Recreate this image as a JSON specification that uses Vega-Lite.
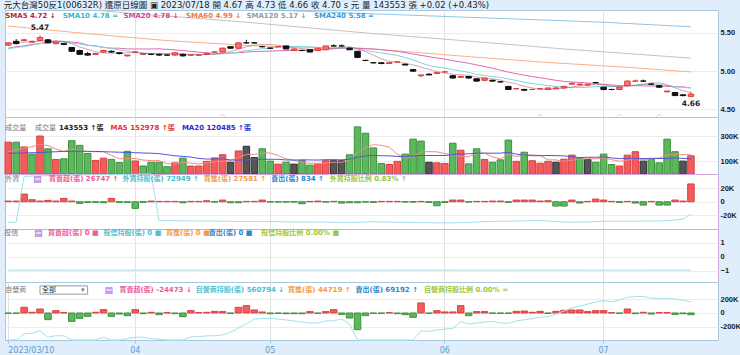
{
"$schema":"https://vega.github.io/schema/vega-lite/v6.json",
"background":"#dfeefa",
"padding":{"left":3,"top":1,"right":0,"bottom":0},
"spacing":0,
"bounds":"flush",
"title":{"text":"元大台灣50反1(00632R)    還原日線圖   ▣ 2023/07/18  開 4.67  高 4.73  低 4.66  收 4.70 s 元  量 143553 張  +0.02 (+0.43%)","anchor":"start","fontSize":8.5,"fontWeight":"normal","color":"#222","offset":0,"font":"DejaVu Sans, Noto Sans CJK TC"},
"config":{
 "font":"DejaVu Sans, Noto Sans CJK TC",
 "view":{"stroke":"#a8c8e0","fill":"white"},
 "axisY":{"title":null,"domain":false,"ticks":false,"labelPadding":2,"labelFont":"Liberation Sans","labelFontSize":7.5,"labelFontWeight":"bold","labelColor":"#222","grid":true,"gridColor":"#ececec","labelOverlap":false},
 "axisX":{"title":null,"domain":false,"ticks":false,"labels":false,"grid":true,"gridColor":"#e2e2e2","bandPosition":0.5}
},
"datasets":{
"m":[
{"d":"2023-03-10","o":5.34,"h":5.38,"l":5.33,"c":5.37,"r":"u","v":251,"fn":1,"dn":-5,"s5":5.36,"s10":5.29,"s20":5.30,"vm5":175,"vm20":164,"fh":33,"dh":0,"th":0},
{"d":"2023-03-13","o":5.39,"h":5.42,"l":5.35,"c":5.36,"r":"d","v":251,"fn":1,"dn":-5,"s5":5.37,"s10":5.31,"s20":5.32,"vm5":190,"vm20":165,"fh":33,"dh":0,"th":0},
{"d":"2023-03-14","o":5.40,"h":5.42,"l":5.39,"c":5.41,"r":"u","v":214,"fn":11.5,"dn":83,"s5":5.38,"s10":5.32,"s20":5.33,"vm5":205,"vm20":166,"fh":258,"dh":88,"th":0},
{"d":"2023-03-15","o":5.38,"h":5.40,"l":5.37,"c":5.39,"r":"d","v":157,"fn":3,"dn":10,"s5":5.38,"s10":5.34,"s20":5.35,"vm5":215,"vm20":168,"fh":260,"dh":98,"th":0},
{"d":"2023-03-16","o":5.40,"h":5.47,"l":5.39,"c":5.44,"r":"u","v":300,"fn":1,"dn":58,"s5":5.394,"s10":5.36,"s20":5.36,"vm5":235,"vm20":170,"fh":261,"dh":136,"th":0},
{"d":"2023-03-17","o":5.41,"h":5.42,"l":5.37,"c":5.37,"r":"d","v":199,"fn":2,"dn":-97,"s5":5.394,"s10":5.37,"s20":5.38,"vm5":224,"vm20":173,"fh":262,"dh":40,"th":0},
{"d":"2023-03-20","o":5.36,"h":5.39,"l":5.35,"c":5.38,"r":"u","v":115,"fn":1,"dn":34,"s5":5.398,"s10":5.38,"s20":5.39,"vm5":197,"vm20":176,"fh":263,"dh":63,"th":0},
{"d":"2023-03-21","o":5.36,"h":5.37,"l":5.34,"c":5.35,"r":"d","v":120,"fn":5,"dn":5,"s5":5.386,"s10":5.38,"s20":5.39,"vm5":178,"vm20":178,"fh":264,"dh":63,"th":0},
{"d":"2023-03-22","o":5.31,"h":5.31,"l":5.25,"c":5.26,"r":"d","v":263,"fn":1,"dn":-122,"s5":5.36,"s10":5.37,"s20":5.38,"vm5":199,"vm20":179,"fh":265,"dh":0,"th":0},
{"d":"2023-03-23","o":5.27,"h":5.28,"l":5.22,"c":5.22,"r":"d","v":226,"fn":-2.5,"dn":-78,"s5":5.316,"s10":5.355,"s20":5.37,"vm5":185,"vm20":180,"fh":265,"dh":0,"th":0},
{"d":"2023-03-24","o":5.23,"h":5.25,"l":5.20,"c":5.21,"r":"d","v":162,"fn":-1,"dn":-49,"s5":5.284,"s10":5.339,"s20":5.34,"vm5":177,"vm20":179,"fh":266,"dh":0,"th":0},
{"d":"2023-03-27","o":5.22,"h":5.24,"l":5.21,"c":5.23,"r":"u","v":107,"fn":-1,"dn":10,"s5":5.254,"s10":5.326,"s20":5.33,"vm5":176,"vm20":178,"fh":266,"dh":0,"th":0},
{"d":"2023-03-28","o":5.25,"h":5.28,"l":5.24,"c":5.27,"r":"u","v":125,"fn":-1.5,"dn":49,"s5":5.238,"s10":5.312,"s20":5.31,"vm5":177,"vm20":176,"fh":267,"dh":40,"th":0},
{"d":"2023-03-29","o":5.26,"h":5.27,"l":5.24,"c":5.25,"r":"d","v":115,"fn":5,"dn":-49,"s5":5.236,"s10":5.298,"s20":5.30,"vm5":147,"vm20":174,"fh":267,"dh":0,"th":0},
{"d":"2023-03-30","o":5.24,"h":5.25,"l":5.22,"c":5.23,"r":"d","v":90,"fn":-1,"dn":-15,"s5":5.238,"s10":5.277,"s20":5.30,"vm5":120,"vm20":172,"fh":268,"dh":0,"th":0},
{"d":"2023-03-31","o":5.20,"h":5.21,"l":5.19,"c":5.21,"r":"d","v":179,"fn":-1,"dn":-39,"s5":5.238,"s10":5.261,"s20":5.29,"vm5":123,"vm20":170,"fh":268,"dh":20,"th":0},
{"d":"2023-04-06","o":5.25,"h":5.26,"l":5.24,"c":5.25,"r":"u","v":103,"fn":-10,"dn":49,"s5":5.242,"s10":5.248,"s20":5.29,"vm5":122,"vm20":168,"fh":269,"dh":40,"th":0},
{"d":"2023-04-07","o":5.22,"h":5.24,"l":5.21,"c":5.23,"r":"d","v":63,"fn":-1,"dn":-10,"s5":5.234,"s10":5.236,"s20":5.29,"vm5":110,"vm20":166,"fh":270,"dh":40,"th":0},
{"d":"2023-04-10","o":5.22,"h":5.23,"l":5.21,"c":5.22,"r":"d","v":93,"fn":1,"dn":10,"s5":5.228,"s10":5.232,"s20":5.29,"vm5":106,"vm20":164,"fh":270,"dh":20,"th":0},
{"d":"2023-04-11","o":5.22,"h":5.23,"l":5.20,"c":5.21,"r":"d","v":93,"fn":0.5,"dn":-24,"s5":5.224,"s10":5.231,"s20":5.293,"vm5":106,"vm20":161,"fh":41,"dh":10,"th":0},
{"d":"2023-04-12","o":5.21,"h":5.22,"l":5.20,"c":5.21,"r":"d","v":58,"fn":0.5,"dn":5,"s5":5.224,"s10":5.231,"s20":5.285,"vm5":82,"vm20":152,"fh":41,"dh":0,"th":0},
{"d":"2023-04-13","o":5.21,"h":5.25,"l":5.20,"c":5.24,"r":"u","v":88,"fn":0.5,"dn":-10,"s5":5.222,"s10":5.232,"s20":5.279,"vm5":79,"vm20":144,"fh":41,"dh":0,"th":0},
{"d":"2023-04-14","o":5.22,"h":5.23,"l":5.19,"c":5.20,"r":"d","v":125,"fn":-1.5,"dn":-54,"s5":5.216,"s10":5.225,"s20":5.269,"vm5":91,"vm20":139,"fh":40,"dh":0,"th":0},
{"d":"2023-04-17","o":5.21,"h":5.22,"l":5.20,"c":5.21,"r":"u","v":63,"fn":0.5,"dn":34,"s5":5.214,"s10":5.221,"s20":5.26,"vm5":85,"vm20":134,"fh":40,"dh":44,"th":0},
{"d":"2023-04-18","o":5.21,"h":5.22,"l":5.20,"c":5.21,"r":"u","v":63,"fn":0.5,"dn":5,"s5":5.214,"s10":5.219,"s20":5.248,"vm5":79,"vm20":123,"fh":39,"dh":50,"th":0},
{"d":"2023-04-19","o":5.22,"h":5.24,"l":5.21,"c":5.23,"r":"u","v":100,"fn":1.5,"dn":10,"s5":5.218,"s10":5.221,"s20":5.241,"vm5":88,"vm20":118,"fh":39,"dh":60,"th":0},
{"d":"2023-04-20","o":5.25,"h":5.26,"l":5.24,"c":5.25,"r":"u","v":127,"fn":-0.5,"dn":24,"s5":5.22,"s10":5.221,"s20":5.235,"vm5":96,"vm20":118,"fh":39,"dh":63,"th":0},
{"d":"2023-04-21","o":5.25,"h":5.31,"l":5.24,"c":5.30,"r":"u","v":152,"fn":2.5,"dn":20,"s5":5.238,"s10":5.227,"s20":5.232,"vm5":101,"vm20":120,"fh":38,"dh":75,"th":0},
{"d":"2023-04-24","o":5.32,"h":5.32,"l":5.29,"c":5.30,"r":"f","v":93,"fn":-1.5,"dn":-5,"s5":5.256,"s10":5.235,"s20":5.234,"vm5":107,"vm20":111,"fh":38,"dh":112,"th":0},
{"d":"2023-04-25","o":5.30,"h":5.38,"l":5.29,"c":5.37,"r":"u","v":182,"fn":-1.5,"dn":83,"s5":5.288,"s10":5.251,"s20":5.241,"vm5":131,"vm20":109,"fh":37,"dh":176,"th":0},
{"d":"2023-04-26","o":5.37,"h":5.41,"l":5.36,"c":5.37,"r":"f","v":219,"fn":0.5,"dn":107,"s5":5.318,"s10":5.268,"s20":5.25,"vm5":155,"vm20":112,"fh":37,"dh":234,"th":0},
{"d":"2023-04-27","o":5.37,"h":5.38,"l":5.36,"c":5.37,"r":"f","v":130,"fn":0.5,"dn":44,"s5":5.342,"s10":5.281,"s20":5.257,"vm5":155,"vm20":113,"fh":37,"dh":307,"th":0},
{"d":"2023-04-28","o":5.32,"h":5.33,"l":5.31,"c":5.32,"r":"d","v":199,"fn":2.5,"dn":15,"s5":5.348,"s10":5.293,"s20":5.259,"vm5":165,"vm20":117,"fh":36,"dh":317,"th":0},
{"d":"2023-05-02","o":5.30,"h":5.31,"l":5.29,"c":5.30,"r":"d","v":102,"fn":-0.5,"dn":-10,"s5":5.348,"s10":5.302,"s20":5.262,"vm5":166,"vm20":116,"fh":36,"dh":317,"th":0},
{"d":"2023-05-03","o":5.32,"h":5.33,"l":5.31,"c":5.32,"r":"u","v":78,"fn":-0.5,"dn":-5,"s5":5.338,"s10":5.313,"s20":5.266,"vm5":146,"vm20":116,"fh":36,"dh":307,"th":0},
{"d":"2023-05-04","o":5.33,"h":5.33,"l":5.29,"c":5.29,"r":"d","v":93,"fn":-0.5,"dn":-10,"s5":5.32,"s10":5.319,"s20":5.27,"vm5":120,"vm20":111,"fh":35,"dh":293,"th":0},
{"d":"2023-05-05","o":5.27,"h":5.30,"l":5.27,"c":5.29,"r":"f","v":78,"fn":-0.5,"dn":-10,"s5":5.306,"s10":5.324,"s20":5.273,"vm5":110,"vm20":110,"fh":35,"dh":278,"th":0},
{"d":"2023-05-08","o":5.27,"h":5.28,"l":5.26,"c":5.27,"r":"d","v":105,"fn":-3,"dn":-10,"s5":5.296,"s10":5.322,"s20":5.275,"vm5":91,"vm20":112,"fh":35,"dh":263,"th":0},
{"d":"2023-05-09","o":5.28,"h":5.28,"l":5.25,"c":5.25,"r":"d","v":70,"fn":0.5,"dn":20,"s5":5.286,"s10":5.317,"s20":5.276,"vm5":85,"vm20":111,"fh":34,"dh":249,"th":0},
{"d":"2023-05-10","o":5.27,"h":5.30,"l":5.26,"c":5.30,"r":"u","v":78,"fn":1,"dn":-5,"s5":5.282,"s10":5.31,"s20":5.281,"vm5":85,"vm20":110,"fh":34,"dh":249,"th":0},
{"d":"2023-05-11","o":5.28,"h":5.33,"l":5.28,"c":5.33,"r":"u","v":105,"fn":-0.5,"dn":20,"s5":5.29,"s10":5.305,"s20":5.287,"vm5":87,"vm20":113,"fh":34,"dh":278,"th":0},
{"d":"2023-05-12","o":5.33,"h":5.35,"l":5.32,"c":5.33,"r":"f","v":105,"fn":0.5,"dn":49,"s5":5.298,"s10":5.302,"s20":5.292,"vm5":93,"vm20":113,"fh":33,"dh":282,"th":0},
{"d":"2023-05-15","o":5.33,"h":5.35,"l":5.32,"c":5.33,"r":"f","v":105,"fn":-2,"dn":-20,"s5":5.312,"s10":5.304,"s20":5.299,"vm5":93,"vm20":112,"fh":33,"dh":307,"th":0},
{"d":"2023-05-16","o":5.30,"h":5.31,"l":5.28,"c":5.28,"r":"d","v":152,"fn":-1.5,"dn":-73,"s5":5.318,"s10":5.302,"s20":5.302,"vm5":109,"vm20":117,"fh":33,"dh":234,"th":0},
{"d":"2023-05-17","o":5.26,"h":5.26,"l":5.17,"c":5.18,"r":"d","v":372,"fn":-1.5,"dn":-243,"s5":5.294,"s10":5.288,"s20":5.301,"vm5":168,"vm20":132,"fh":33,"dh":0,"th":0},
{"d":"2023-05-18","o":5.14,"h":5.15,"l":5.13,"c":5.14,"r":"d","v":322,"fn":-0.5,"dn":-39,"s5":5.256,"s10":5.273,"s20":5.296,"vm5":211,"vm20":143,"fh":34,"dh":0,"th":0},
{"d":"2023-05-19","o":5.11,"h":5.12,"l":5.10,"c":5.11,"r":"d","v":206,"fn":-1,"dn":-5,"s5":5.21,"s10":5.254,"s20":5.289,"vm5":231,"vm20":147,"fh":36,"dh":0,"th":0},
{"d":"2023-05-22","o":5.11,"h":5.11,"l":5.09,"c":5.10,"r":"d","v":83,"fn":0.5,"dn":-5,"s5":5.162,"s10":5.237,"s20":5.28,"vm5":227,"vm20":144,"fh":35,"dh":0,"th":0},
{"d":"2023-05-23","o":5.10,"h":5.12,"l":5.10,"c":5.11,"r":"u","v":75,"fn":0.5,"dn":5,"s5":5.128,"s10":5.223,"s20":5.27,"vm5":212,"vm20":143,"fh":34,"dh":0,"th":0},
{"d":"2023-05-24","o":5.12,"h":5.13,"l":5.11,"c":5.12,"r":"u","v":100,"fn":0.5,"dn":-10,"s5":5.116,"s10":5.205,"s20":5.258,"vm5":157,"vm20":139,"fh":33,"dh":0,"th":0},
{"d":"2023-05-25","o":5.09,"h":5.10,"l":5.08,"c":5.08,"r":"d","v":157,"fn":-0.5,"dn":-24,"s5":5.104,"s10":5.18,"s20":5.243,"vm5":124,"vm20":136,"fh":33,"dh":0,"th":0},
{"d":"2023-05-26","o":5.02,"h":5.03,"l":4.99,"c":5.00,"r":"d","v":275,"fn":-0.5,"dn":-63,"s5":5.082,"s10":5.146,"s20":5.224,"vm5":138,"vm20":143,"fh":32,"dh":0,"th":0},
{"d":"2023-05-29","o":4.94,"h":4.95,"l":4.92,"c":4.95,"r":"d","v":260,"fn":0.5,"dn":146,"s5":5.052,"s10":5.107,"s20":5.206,"vm5":173,"vm20":146,"fh":31,"dh":136,"th":0},
{"d":"2023-05-30","o":4.96,"h":4.97,"l":4.95,"c":4.95,"r":"f","v":93,"fn":-1,"dn":-5,"s5":5.022,"s10":5.075,"s20":5.189,"vm5":177,"vm20":146,"fh":31,"dh":127,"th":0},
{"d":"2023-05-31","o":4.97,"h":4.99,"l":4.96,"c":4.98,"r":"u","v":88,"fn":-6,"dn":34,"s5":4.994,"s10":5.055,"s20":5.172,"vm5":175,"vm20":146,"fh":30,"dh":146,"th":0},
{"d":"2023-06-01","o":4.99,"h":5.00,"l":4.98,"c":4.99,"r":"u","v":83,"fn":-1,"dn":15,"s5":4.976,"s10":5.04,"s20":5.157,"vm5":160,"vm20":146,"fh":30,"dh":161,"th":0},
{"d":"2023-06-02","o":4.94,"h":4.95,"l":4.90,"c":4.91,"r":"d","v":243,"fn":2.5,"dn":15,"s5":4.958,"s10":5.02,"s20":5.137,"vm5":153,"vm20":154,"fh":30,"dh":171,"th":0},
{"d":"2023-06-05","o":4.92,"h":4.94,"l":4.91,"c":4.93,"r":"u","v":188,"fn":2.5,"dn":107,"s5":4.954,"s10":5.003,"s20":5.12,"vm5":139,"vm20":158,"fh":31,"dh":268,"th":0},
{"d":"2023-06-06","o":4.93,"h":4.93,"l":4.90,"c":4.91,"r":"d","v":80,"fn":-0.5,"dn":-39,"s5":4.944,"s10":4.983,"s20":5.103,"vm5":136,"vm20":159,"fh":32,"dh":234,"th":0},
{"d":"2023-06-07","o":4.90,"h":4.90,"l":4.86,"c":4.87,"r":"d","v":199,"fn":0.5,"dn":20,"s5":4.922,"s10":4.958,"s20":5.082,"vm5":159,"vm20":165,"fh":34,"dh":249,"th":0},
{"d":"2023-06-08","o":4.88,"h":4.91,"l":4.87,"c":4.91,"r":"u","v":115,"fn":0.5,"dn":20,"s5":4.906,"s10":4.941,"s20":5.061,"vm5":165,"vm20":165,"fh":36,"dh":263,"th":0},
{"d":"2023-06-09","o":4.88,"h":4.89,"l":4.86,"c":4.87,"r":"d","v":93,"fn":1,"dn":-5,"s5":4.898,"s10":4.928,"s20":5.037,"vm5":135,"vm20":164,"fh":37,"dh":273,"th":0},
{"d":"2023-06-12","o":4.86,"h":4.87,"l":4.85,"c":4.86,"r":"d","v":112,"fn":1,"dn":-5,"s5":4.884,"s10":4.919,"s20":5.013,"vm5":120,"vm20":165,"fh":38,"dh":249,"th":0},
{"d":"2023-06-13","o":4.80,"h":4.80,"l":4.76,"c":4.76,"r":"d","v":268,"fn":-1,"dn":-5,"s5":4.854,"s10":4.899,"s20":4.987,"vm5":157,"vm20":171,"fh":38,"dh":244,"th":0},
{"d":"2023-06-14","o":4.77,"h":4.78,"l":4.76,"c":4.77,"r":"u","v":100,"fn":2.5,"dn":24,"s5":4.834,"s10":4.878,"s20":4.967,"vm5":138,"vm20":157,"fh":39,"dh":278,"th":0},
{"d":"2023-06-15","o":4.76,"h":4.77,"l":4.74,"c":4.75,"r":"d","v":172,"fn":2.5,"dn":29,"s5":4.802,"s10":4.854,"s20":4.947,"vm5":149,"vm20":150,"fh":40,"dh":297,"th":0},
{"d":"2023-06-16","o":4.76,"h":4.77,"l":4.75,"c":4.76,"r":"u","v":105,"fn":2.5,"dn":10,"s5":4.78,"s10":4.839,"s20":4.93,"vm5":151,"vm20":144,"fh":41,"dh":312,"th":0},
{"d":"2023-06-19","o":4.77,"h":4.78,"l":4.76,"c":4.77,"r":"u","v":85,"fn":1,"dn":24,"s5":4.762,"s10":4.823,"s20":4.913,"vm5":146,"vm20":145,"fh":41,"dh":332,"th":0},
{"d":"2023-06-20","o":4.76,"h":4.78,"l":4.75,"c":4.78,"r":"u","v":100,"fn":1.5,"dn":-5,"s5":4.766,"s10":4.81,"s20":4.897,"vm5":112,"vm20":146,"fh":39,"dh":341,"th":0},
{"d":"2023-06-21","o":4.77,"h":4.79,"l":4.77,"c":4.78,"r":"f","v":93,"fn":-6.5,"dn":24,"s5":4.768,"s10":4.801,"s20":4.88,"vm5":111,"vm20":145,"fh":37,"dh":380,"th":0},
{"d":"2023-06-26","o":4.78,"h":4.81,"l":4.77,"c":4.80,"r":"u","v":117,"fn":-6.5,"dn":39,"s5":4.778,"s10":4.79,"s20":4.866,"vm5":100,"vm20":143,"fh":35,"dh":424,"th":0},
{"d":"2023-06-27","o":4.83,"h":4.85,"l":4.82,"c":4.84,"r":"u","v":149,"fn":2.5,"dn":44,"s5":4.794,"s10":4.787,"s20":4.858,"vm5":109,"vm20":137,"fh":33,"dh":468,"th":0},
{"d":"2023-06-28","o":4.82,"h":4.84,"l":4.81,"c":4.83,"r":"d","v":125,"fn":-2,"dn":44,"s5":4.806,"s10":4.784,"s20":4.852,"vm5":117,"vm20":130,"fh":34,"dh":497,"th":0},
{"d":"2023-06-29","o":4.82,"h":4.83,"l":4.80,"c":4.83,"r":"f","v":115,"fn":0.5,"dn":20,"s5":4.814,"s10":4.79,"s20":4.845,"vm5":120,"vm20":132,"fh":35,"dh":527,"th":0},
{"d":"2023-06-30","o":4.85,"h":4.86,"l":4.84,"c":4.85,"r":"d","v":93,"fn":4,"dn":34,"s5":4.828,"s10":4.798,"s20":4.838,"vm5":120,"vm20":132,"fh":36,"dh":556,"th":0},
{"d":"2023-07-03","o":4.79,"h":4.79,"l":4.75,"c":4.76,"r":"d","v":157,"fn":2.5,"dn":34,"s5":4.82,"s10":4.799,"s20":4.827,"vm5":128,"vm20":135,"fh":38,"dh":575,"th":0},
{"d":"2023-07-04","o":4.76,"h":4.77,"l":4.75,"c":4.76,"r":"d","v":75,"fn":0.5,"dn":5,"s5":4.804,"s10":4.799,"s20":4.819,"vm5":113,"vm20":127,"fh":38,"dh":560,"th":0},
{"d":"2023-07-05","o":4.76,"h":4.79,"l":4.75,"c":4.79,"r":"u","v":63,"fn":-1,"dn":-5,"s5":4.796,"s10":4.801,"s20":4.812,"vm5":101,"vm20":121,"fh":38,"dh":585,"th":0},
{"d":"2023-07-06","o":4.81,"h":4.88,"l":4.80,"c":4.87,"r":"u","v":149,"fn":0.5,"dn":58,"s5":4.806,"s10":4.81,"s20":4.81,"vm5":107,"vm20":124,"fh":38,"dh":625,"th":0},
{"d":"2023-07-07","o":4.87,"h":4.89,"l":4.86,"c":4.87,"r":"u","v":176,"fn":-2,"dn":-10,"s5":4.81,"s10":4.819,"s20":4.81,"vm5":124,"vm20":123,"fh":38,"dh":634,"th":0},
{"d":"2023-07-10","o":4.87,"h":4.89,"l":4.86,"c":4.87,"r":"f","v":102,"fn":-5,"dn":10,"s5":4.832,"s10":4.826,"s20":4.808,"vm5":113,"vm20":122,"fh":39,"dh":639,"th":0},
{"d":"2023-07-11","o":4.83,"h":4.84,"l":4.82,"c":4.83,"r":"d","v":117,"fn":0.5,"dn":-15,"s5":4.846,"s10":4.825,"s20":4.806,"vm5":121,"vm20":124,"fh":39,"dh":610,"th":0},
{"d":"2023-07-12","o":4.81,"h":4.81,"l":4.78,"c":4.79,"r":"d","v":88,"fn":-5,"dn":5,"s5":4.846,"s10":4.821,"s20":4.803,"vm5":126,"vm20":122,"fh":40,"dh":610,"th":0},
{"d":"2023-07-13","o":4.73,"h":4.74,"l":4.72,"c":4.74,"r":"d","v":275,"fn":-5,"dn":5,"s5":4.82,"s10":4.813,"s20":4.802,"vm5":152,"vm20":123,"fh":41,"dh":610,"th":0},
{"d":"2023-07-14","o":4.72,"h":4.72,"l":4.68,"c":4.68,"r":"d","v":176,"fn":2.5,"dn":-20,"s5":4.782,"s10":4.796,"s20":4.797,"vm5":152,"vm20":127,"fh":44,"dh":600,"th":0},
{"d":"2023-07-17","o":4.69,"h":4.70,"l":4.67,"c":4.68,"r":"f","v":102,"fn":1,"dn":-10,"s5":4.744,"s10":4.788,"s20":4.794,"vm5":152,"vm20":123,"fh":49,"dh":581,"th":0},
{"d":"2023-07-18","o":4.67,"h":4.73,"l":4.66,"c":4.70,"r":"u","v":143.553,"fn":26.747,"dn":-24.473,"s5":4.72,"s10":4.78,"s20":4.78,"vm5":152.978,"vm20":120.485,"fh":72.949,"dh":560.794,"th":0}
],
"ma":[
{"d":"2023-03-10","k":"SMA60","v":5.59},{"d":"2023-03-24","k":"SMA60","v":5.49},{"d":"2023-04-12","k":"SMA60","v":5.40},{"d":"2023-04-27","k":"SMA60","v":5.33},{"d":"2023-05-19","k":"SMA60","v":5.29},{"d":"2023-06-06","k":"SMA60","v":5.19},{"d":"2023-06-19","k":"SMA60","v":5.12},{"d":"2023-07-06","k":"SMA60","v":5.05},{"d":"2023-07-18","k":"SMA60","v":4.99},
{"d":"2023-03-10","k":"SMA120","v":5.89},{"d":"2023-03-30","k":"SMA120","v":5.77},{"d":"2023-04-26","k":"SMA120","v":5.64},{"d":"2023-05-18","k":"SMA120","v":5.50},{"d":"2023-06-02","k":"SMA120","v":5.41},{"d":"2023-06-26","k":"SMA120","v":5.29},{"d":"2023-07-18","k":"SMA120","v":5.17},
{"d":"2023-03-10","k":"SMA240","v":5.92},{"d":"2023-04-26","k":"SMA240","v":5.81},{"d":"2023-05-19","k":"SMA240","v":5.75},{"d":"2023-07-03","k":"SMA240","v":5.64},{"d":"2023-07-18","k":"SMA240","v":5.58}
],
"ev":[
{"d":"2023-04-21","t":"a"},{"d":"2023-06-19","t":"a"},{"d":"2023-07-05","t":"b"},{"d":"2023-07-12","t":"a"}
]
},
"vconcat":[
{
 "width":713,"height":107,
 "view":{"stroke":"#a8c8e0","fill":"white"},
 "data":{"name":"m"},
 "encoding":{"x":{"field":"d","type":"ordinal","scale":{"type":"band","domain":{"unionWith":["2023-07-19","2023-07-20","2023-07-21"]},"paddingInner":0.18,"paddingOuter":0},"axis":{"values":["2023-04-06","2023-05-02","2023-06-01","2023-07-03"]}}},
 "layer":[
  {"data":{"name":"ma"},"mark":{"type":"line","strokeWidth":1,"clip":true},"encoding":{"y":{"field":"v","type":"quantitative","scale":{"domain":[4.41,5.78]},"axis":{"orient":"right","values":[4.5,4.75,5,5.25,5.5],"format":".2f","labelOverlap":false}},"color":{"field":"k","type":"nominal","scale":{"domain":["SMA60","SMA120","SMA240"],"range":["#f7b088","#c4c4c4","#8cc6e6"]},"legend":null}}},
  {"mark":{"type":"line","color":"#e466b4","strokeWidth":1},"encoding":{"y":{"field":"s20","type":"quantitative"}}},
  {"mark":{"type":"line","color":"#84d2e0","strokeWidth":1},"encoding":{"y":{"field":"s10","type":"quantitative"}}},
  {"mark":{"type":"line","color":"#a04848","strokeWidth":0.8,"opacity":0.6},"encoding":{"y":{"field":"s5","type":"quantitative"}}},
  {"mark":{"type":"rule","strokeWidth":1},"encoding":{"y":{"field":"l","type":"quantitative"},"y2":{"field":"h"},"color":{"condition":{"test":"datum.c > datum.o || (datum.c == datum.o && datum.r == 'u')","value":"#e23c3c"},"value":"#111111"}}},
  {"mark":{"type":"bar","strokeWidth":1,"width":{"band":0.85}},"encoding":{"y":{"field":"o","type":"quantitative"},"y2":{"field":"c"},"fill":{"condition":{"test":"datum.c > datum.o || (datum.c == datum.o && datum.r == 'u')","value":"#f87070"},"value":"#111111"},"stroke":{"condition":{"test":"datum.c > datum.o || (datum.c == datum.o && datum.r == 'u')","value":"#e23c3c"},"value":"#111111"}}},
  {"data":{"name":"ev"},"mark":{"type":"point","shape":"M-1,0.6L0,-0.4L1,0.6","filled":false,"size":28,"strokeWidth":1},"encoding":{"y":{"datum":4.425},"color":{"field":"t","type":"nominal","scale":{"domain":["a","b"],"range":["#eaa0c0","#8fd6e4"]},"legend":null}}},
  {"transform":[{"joinaggregate":[{"op":"max","field":"h","as":"mx"}]},{"filter":"datum.h == datum.mx"}],"mark":{"type":"text","dy":-7,"fontSize":7.5,"fontWeight":"bold","color":"#222"},"encoding":{"y":{"field":"h","type":"quantitative"},"text":{"field":"h","type":"quantitative","format":".2f"}}},
  {"transform":[{"joinaggregate":[{"op":"min","field":"l","as":"mn"}]},{"filter":"datum.l == datum.mn"}],"mark":{"type":"text","dy":7,"fontSize":7.5,"fontWeight":"bold","color":"#222"},"encoding":{"y":{"field":"l","type":"quantitative"},"text":{"field":"l","type":"quantitative","format":".2f"}}},
  {"data":{"values":[{}]},"mark":{"type":"text","align":"left","baseline":"middle","fontSize":7,"fontWeight":"bold","color":"#b22a2a","dx":-3},"encoding":{"x":{"datum":"2023-03-10","type":"ordinal"},"y":{"datum":5.717},"text":{"value":"SMA5 4.72 ↓"}}},
  {"data":{"values":[{}]},"mark":{"type":"text","align":"left","baseline":"middle","fontSize":7,"fontWeight":"bold","color":"#36b8c8","dx":-1},"encoding":{"x":{"datum":"2023-03-21","type":"ordinal"},"y":{"datum":5.717},"text":{"value":"SMA10 4.78 ="}}},
  {"data":{"values":[{}]},"mark":{"type":"text","align":"left","baseline":"middle","fontSize":7,"fontWeight":"bold","color":"#e0409a","dx":4},"encoding":{"x":{"datum":"2023-03-30","type":"ordinal"},"y":{"datum":5.717},"text":{"value":"SMA20 4.78 ↓"}}},
  {"data":{"values":[{}]},"mark":{"type":"text","align":"left","baseline":"middle","fontSize":7,"fontWeight":"bold","color":"#f07a3a","dx":3},"encoding":{"x":{"datum":"2023-04-14","type":"ordinal"},"y":{"datum":5.717},"text":{"value":"SMA60 4.99 ↓"}}},
  {"data":{"values":[{}]},"mark":{"type":"text","align":"left","baseline":"middle","fontSize":7,"fontWeight":"bold","color":"#9a9a9a","dx":0},"encoding":{"x":{"datum":"2023-04-26","type":"ordinal"},"y":{"datum":5.717},"text":{"value":"SMA120 5.17 ↓"}}},
  {"data":{"values":[{}]},"mark":{"type":"text","align":"left","baseline":"middle","fontSize":7,"fontWeight":"bold","color":"#3a9ad8","dx":4},"encoding":{"x":{"datum":"2023-05-09","type":"ordinal"},"y":{"datum":5.717},"text":{"value":"SMA240 5.58 ="}}}
 ]
},
{
 "width":713,"height":57,
 "view":{"stroke":"#a8c8e0","fill":"white"},
 "data":{"name":"m"},
 "encoding":{"x":{"field":"d","type":"ordinal","scale":{"type":"band","domain":{"unionWith":["2023-07-19","2023-07-20","2023-07-21"]},"paddingInner":0.18,"paddingOuter":0},"axis":{"values":["2023-04-06","2023-05-02","2023-06-01","2023-07-03"]}}},
 "layer":[
  {"mark":{"type":"bar","strokeWidth":1},"encoding":{"y":{"field":"v","type":"quantitative","scale":{"domain":[0,422]},"axis":{"orient":"right","values":[100,200,300],"labelExpr":"datum.value + 'K'","labelOverlap":false}},"fill":{"field":"r","type":"nominal","scale":{"domain":["u","d","f"],"range":["#f45c5c","#5cb85c","#555555"]},"legend":null},"stroke":{"field":"r","type":"nominal","scale":{"domain":["u","d","f"],"range":["#d94040","#3f8f3f","#333333"]},"legend":null}}},
  {"mark":{"type":"line","color":"#f08a8a","strokeWidth":1},"encoding":{"y":{"field":"vm5","type":"quantitative"}}},
  {"mark":{"type":"line","color":"#5555cc","strokeWidth":1},"encoding":{"y":{"field":"vm20","type":"quantitative"}}},
  {"data":{"values":[{}]},"mark":{"type":"text","align":"left","baseline":"middle","fontSize":7,"color":"#777","dx":-3},"encoding":{"x":{"datum":"2023-03-10","type":"ordinal"},"y":{"datum":367},"text":{"value":"成交量"}}},
  {"data":{"values":[{}]},"mark":{"type":"text","align":"left","baseline":"middle","fontSize":7,"color":"#777","dx":3},"encoding":{"x":{"datum":"2023-03-15","type":"ordinal"},"y":{"datum":367},"text":{"value":"成交量"}}},
  {"data":{"values":[{}]},"mark":{"type":"text","align":"left","baseline":"middle","fontSize":7,"fontWeight":"bold","color":"#222","dx":3},"encoding":{"x":{"datum":"2023-03-20","type":"ordinal"},"y":{"datum":367},"text":{"value":"143553 ↑張"}}},
  {"data":{"values":[{}]},"mark":{"type":"text","align":"left","baseline":"middle","fontSize":7,"fontWeight":"bold","color":"#e83030","dx":-1},"encoding":{"x":{"datum":"2023-03-29","type":"ordinal"},"y":{"datum":367},"text":{"value":"MA5 152978 ↑張"}}},
  {"data":{"values":[{}]},"mark":{"type":"text","align":"left","baseline":"middle","fontSize":7,"fontWeight":"bold","color":"#2a2ad0","dx":-1},"encoding":{"x":{"datum":"2023-04-14","type":"ordinal"},"y":{"datum":367},"text":{"value":"MA20 120485 ↑張"}}}
 ]
},
{
 "width":713,"height":55,
 "view":{"stroke":"#d4a6e4","fill":"white"},
 "data":{"name":"m"},
 "encoding":{"x":{"field":"d","type":"ordinal","scale":{"type":"band","domain":{"unionWith":["2023-07-19","2023-07-20","2023-07-21"]},"paddingInner":0.18,"paddingOuter":0},"axis":{"values":["2023-04-06","2023-05-02","2023-06-01","2023-07-03"]}}},
 "resolve":{"scale":{"y":"independent"},"axis":{"y":"independent"}},
 "layer":[
  {"mark":{"type":"bar","strokeWidth":1},"encoding":{"y":{"field":"fn","type":"quantitative","scale":{"domain":[-41,41.7]},"axis":{"orient":"right","values":[-20,0,20],"labelExpr":"datum.value == 0 ? '0' : datum.value + 'K'","labelOverlap":false}},"fill":{"condition":{"test":"datum.fn > 0","value":"#f45c5c"},"value":"#5cb85c"},"stroke":{"condition":{"test":"datum.fn > 0","value":"#d94040"},"value":"#3f8f3f"}}},
  {"mark":{"type":"line","color":"#a2e0ea","strokeWidth":1},"encoding":{"y":{"field":"fh","type":"quantitative","scale":{"domain":[0,270]},"axis":null}}},
  {"data":{"values":[{}]},"mark":{"type":"text","align":"left","baseline":"middle","fontSize":7,"color":"#777","dx":-3},"encoding":{"x":{"datum":"2023-03-10","type":"ordinal"},"y":{"datum":34,"scale":{"domain":[-41,41.7]},"axis":null},"text":{"value":"外資"}}},
  {"data":{"values":[{}]},"mark":{"type":"text","align":"left","baseline":"middle","fontSize":9,"color":"#a25ad9","dx":1},"encoding":{"x":{"datum":"2023-03-15","type":"ordinal"},"y":{"datum":34,"scale":{"domain":[-41,41.7]},"axis":null},"text":{"value":"▤"}}},
  {"data":{"values":[{}]},"mark":{"type":"text","align":"left","baseline":"middle","fontSize":7,"fontWeight":"bold","color":"#ee5c9a","dx":1},"encoding":{"x":{"datum":"2023-03-17","type":"ordinal"},"y":{"datum":34,"scale":{"domain":[-41,41.7]},"axis":null},"text":{"value":"買賣超(張) 26747 ↑"}}},
  {"data":{"values":[{}]},"mark":{"type":"text","align":"left","baseline":"middle","fontSize":7,"fontWeight":"bold","color":"#4cc0d0","dx":3},"encoding":{"x":{"datum":"2023-03-30","type":"ordinal"},"y":{"datum":34,"scale":{"domain":[-41,41.7]},"axis":null},"text":{"value":"外資持股(張) 72949 ↑"}}},
  {"data":{"values":[{}]},"mark":{"type":"text","align":"left","baseline":"middle","fontSize":7,"fontWeight":"bold","color":"#f39a4a","dx":-3},"encoding":{"x":{"datum":"2023-04-19","type":"ordinal"},"y":{"datum":34,"scale":{"domain":[-41,41.7]},"axis":null},"text":{"value":"買進(張) 27581 ↑"}}},
  {"data":{"values":[{}]},"mark":{"type":"text","align":"left","baseline":"middle","fontSize":7,"fontWeight":"bold","color":"#2e86c8","dx":1},"encoding":{"x":{"datum":"2023-05-02","type":"ordinal"},"y":{"datum":34,"scale":{"domain":[-41,41.7]},"axis":null},"text":{"value":"賣出(張) 834 ↑"}}},
  {"data":{"values":[{}]},"mark":{"type":"text","align":"left","baseline":"middle","fontSize":7,"fontWeight":"bold","color":"#9ac83a","dx":4},"encoding":{"x":{"datum":"2023-05-11","type":"ordinal"},"y":{"datum":34,"scale":{"domain":[-41,41.7]},"axis":null},"text":{"value":"外資持股比例 0.83% ↑"}}}
 ]
},
{
 "width":713,"height":53,
 "view":{"stroke":"#d4a6e4","fill":"white"},
 "data":{"name":"m"},
 "encoding":{"x":{"field":"d","type":"ordinal","scale":{"type":"band","domain":{"unionWith":["2023-07-19","2023-07-20","2023-07-21"]},"paddingInner":0.18,"paddingOuter":0},"axis":{"values":["2023-04-06","2023-05-02","2023-06-01","2023-07-03"]}}},
 "resolve":{"scale":{"y":"independent"},"axis":{"y":"independent"}},
 "layer":[
  {"data":{"values":[{}]},"mark":{"type":"text","align":"left","baseline":"middle","fontSize":7,"color":"#777","dx":-4},"encoding":{"x":{"datum":"2023-03-10","type":"ordinal"},"y":{"datum":1.69,"type":"quantitative","scale":{"domain":[-1.81,1.98]},"axis":{"orient":"right","values":[-1,0,1],"labelOverlap":false}},"text":{"value":"投信"}}},
  {"mark":{"type":"line","color":"#a2e0ea","strokeWidth":1},"encoding":{"y":{"field":"th","type":"quantitative","scale":{"domain":[-0.29,1]},"axis":null}}},
  {"data":{"values":[{}]},"mark":{"type":"text","align":"left","baseline":"middle","fontSize":9,"color":"#a25ad9","dx":2},"encoding":{"x":{"datum":"2023-03-15","type":"ordinal"},"y":{"datum":1.69,"scale":{"domain":[-1.81,1.98]},"axis":null},"text":{"value":"▤"}}},
  {"data":{"values":[{}]},"mark":{"type":"text","align":"left","baseline":"middle","fontSize":7,"fontWeight":"bold","color":"#ee5c9a","dx":0},"encoding":{"x":{"datum":"2023-03-17","type":"ordinal"},"y":{"datum":1.69,"scale":{"domain":[-1.81,1.98]},"axis":null},"text":{"value":"買賣超(張) 0 ■"}}},
  {"data":{"values":[{}]},"mark":{"type":"text","align":"left","baseline":"middle","fontSize":7,"fontWeight":"bold","color":"#4cc0d0","dx":0},"encoding":{"x":{"datum":"2023-03-28","type":"ordinal"},"y":{"datum":1.69,"scale":{"domain":[-1.81,1.98]},"axis":null},"text":{"value":"投信持股(張) 0 ■"}}},
  {"data":{"values":[{}]},"mark":{"type":"text","align":"left","baseline":"middle","fontSize":7,"fontWeight":"bold","color":"#f39a4a","dx":-1},"encoding":{"x":{"datum":"2023-04-12","type":"ordinal"},"y":{"datum":1.69,"scale":{"domain":[-1.81,1.98]},"axis":null},"text":{"value":"買進(張) 0 ■"}}},
  {"data":{"values":[{}]},"mark":{"type":"text","align":"left","baseline":"middle","fontSize":7,"fontWeight":"bold","color":"#2e86c8","dx":2},"encoding":{"x":{"datum":"2023-04-19","type":"ordinal"},"y":{"datum":1.69,"scale":{"domain":[-1.81,1.98]},"axis":null},"text":{"value":"賣出(張) 0 ■"}}},
  {"data":{"values":[{}]},"mark":{"type":"text","align":"left","baseline":"middle","fontSize":7,"fontWeight":"bold","color":"#9ac83a","dx":-1},"encoding":{"x":{"datum":"2023-04-28","type":"ordinal"},"y":{"datum":1.69,"scale":{"domain":[-1.81,1.98]},"axis":null},"text":{"value":"投信持股比例 0.00% ■"}}}
 ]
},
{
 "width":713,"height":58,
 "view":{"stroke":"#a8c8e0","fill":"white"},
 "data":{"name":"m"},
 "encoding":{"x":{"field":"d","type":"ordinal","scale":{"type":"band","domain":{"unionWith":["2023-07-19","2023-07-20","2023-07-21"]},"paddingInner":0.18,"paddingOuter":0},"axis":{"values":["2023-03-10","2023-04-06","2023-05-02","2023-06-01","2023-07-03"],"labels":true,"labelAngle":0,"labelBaseline":"top","labelExpr":"datum.value == '2023-03-10' ? '2023/03/10' : slice(datum.value, 5, 7)","labelColor":"#5b9bd5","labelFontSize":8,"labelFont":"DejaVu Sans","labelPadding":3,"ticks":true,"tickSize":3,"tickColor":"#9cc3de","labelAlign":{"condition":{"test":"datum.value == '2023-03-10'","value":"left"},"value":"center"}}}},
 "resolve":{"scale":{"y":"independent"},"axis":{"y":"independent"}},
 "layer":[
  {"mark":{"type":"bar","strokeWidth":1},"encoding":{"y":{"field":"dn","type":"quantitative","scale":{"domain":[-394,452]},"axis":{"orient":"right","values":[-200,0,200],"labelExpr":"datum.value == 0 ? '0' : datum.value + 'K'","labelOverlap":false}},"fill":{"condition":{"test":"datum.dn > 0","value":"#f45c5c"},"value":"#5cb85c"},"stroke":{"condition":{"test":"datum.dn > 0","value":"#d94040"},"value":"#3f8f3f"}}},
  {"mark":{"type":"line","color":"#a2e0ea","strokeWidth":1},"encoding":{"y":{"field":"dh","type":"quantitative","scale":{"domain":[0,849]},"axis":null}}},
  {"data":{"values":[{}]},"mark":{"type":"text","align":"left","baseline":"middle","fontSize":7,"color":"#777","dx":-3},"encoding":{"x":{"datum":"2023-03-10","type":"ordinal"},"y":{"datum":336,"scale":{"domain":[-394,452]},"axis":null},"text":{"value":"自營商"}}},
  {"data":{"values":[{}]},"mark":{"type":"rect","fill":"white","stroke":"#9a9a9a","strokeWidth":1},"encoding":{"x":{"datum":"2023-03-16","type":"ordinal"},"x2":{"datum":"2023-03-24"},"y":{"datum":395,"scale":{"domain":[-394,452]},"axis":null},"y2":{"datum":275}}},
  {"data":{"values":[{}]},"mark":{"type":"text","align":"left","baseline":"middle","fontSize":7,"color":"#333","dx":2},"encoding":{"x":{"datum":"2023-03-16","type":"ordinal"},"y":{"datum":336,"scale":{"domain":[-394,452]},"axis":null},"text":{"value":"全部"}}},
  {"data":{"values":[{}]},"mark":{"type":"text","align":"center","baseline":"middle","fontSize":7,"color":"#777","dx":3},"encoding":{"x":{"datum":"2023-03-23","type":"ordinal"},"y":{"datum":336,"scale":{"domain":[-394,452]},"axis":null},"text":{"value":"▾"}}},
  {"data":{"values":[{}]},"mark":{"type":"text","align":"left","baseline":"middle","fontSize":9,"color":"#a25ad9","dx":1},"encoding":{"x":{"datum":"2023-03-28","type":"ordinal"},"y":{"datum":336,"scale":{"domain":[-394,452]},"axis":null},"text":{"value":"▤"}}},
  {"data":{"values":[{}]},"mark":{"type":"text","align":"left","baseline":"middle","fontSize":7,"fontWeight":"bold","color":"#ee5c9a","dx":0},"encoding":{"x":{"datum":"2023-03-30","type":"ordinal"},"y":{"datum":336,"scale":{"domain":[-394,452]},"axis":null},"text":{"value":"買賣超(張) -24473 ↓"}}},
  {"data":{"values":[{}]},"mark":{"type":"text","align":"left","baseline":"middle","fontSize":7,"fontWeight":"bold","color":"#4cc0d0","dx":5},"encoding":{"x":{"datum":"2023-04-17","type":"ordinal"},"y":{"datum":336,"scale":{"domain":[-394,452]},"axis":null},"text":{"value":"自營商持股(張) 560794 ↓"}}},
  {"data":{"values":[{}]},"mark":{"type":"text","align":"left","baseline":"middle","fontSize":7,"fontWeight":"bold","color":"#f39a4a","dx":2},"encoding":{"x":{"datum":"2023-05-04","type":"ordinal"},"y":{"datum":336,"scale":{"domain":[-394,452]},"axis":null},"text":{"value":"買進(張) 44719 ↑"}}},
  {"data":{"values":[{}]},"mark":{"type":"text","align":"left","baseline":"middle","fontSize":7,"fontWeight":"bold","color":"#2e86c8","dx":-2},"encoding":{"x":{"datum":"2023-05-17","type":"ordinal"},"y":{"datum":336,"scale":{"domain":[-394,452]},"axis":null},"text":{"value":"賣出(張) 69192 ↑"}}},
  {"data":{"values":[{}]},"mark":{"type":"text","align":"left","baseline":"middle","fontSize":7,"fontWeight":"bold","color":"#9ac83a","dx":3},"encoding":{"x":{"datum":"2023-05-29","type":"ordinal"},"y":{"datum":336,"scale":{"domain":[-394,452]},"axis":null},"text":{"value":"自營商持股比例 0.00% ="}}}
 ]
}
]
}
